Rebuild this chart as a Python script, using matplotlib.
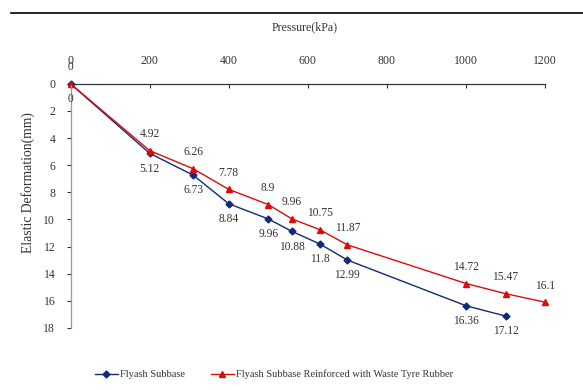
import matplotlib
matplotlib.use("Agg")
import matplotlib.pyplot as plt
from matplotlib.lines import Line2D

plt.rcParams['font.family'] = ['Liberation Serif', 'DejaVu Serif']

pressure_fly = [0, 200, 310, 400, 500, 560, 630, 700, 1000, 1100]
deform_fly = [0, 5.12, 6.73, 8.84, 9.96, 10.88, 11.8, 12.99, 16.36, 17.12]
pressure_rub = [0, 200, 310, 400, 500, 560, 630, 700, 1000, 1100, 1200]
deform_rub = [0, 4.92, 6.26, 7.78, 8.9, 9.96, 10.75, 11.87, 14.72, 15.47, 16.1]
x_ticks = [0, 200, 400, 600, 800, 1000, 1200]
y_ticks = [0, 2, 4, 6, 8, 10, 12, 14, 16, 18]
label_fly = "Flyash Subbase"
label_rub = "Flyash Subbase Reinforced with Waste Tyre Rubber"

blue = '#102a78'
red = '#dd0a0a'
tc = '#333333'

fig = plt.figure(figsize=(5.83, 3.90), dpi=100)
ax = fig.add_axes([0.121, 0.159, 0.814, 0.626])

ax.plot(pressure_fly, deform_fly, color=blue, lw=1.0, marker='D', ms=3.5, label=label_fly)
ax.plot(pressure_rub, deform_rub, color=red, lw=1.0, marker='^', ms=4.5, label=label_rub)

for x, y in zip(pressure_fly, deform_fly):
    ax.annotate(f"{y:g}", (x, y), xytext=(0, -11), textcoords='offset points',
                ha='center', va='center', fontsize=8.3, color=tc)
for x, y in zip(pressure_rub, deform_rub):
    ax.annotate(f"{y:g}", (x, y), xytext=(0, 12), textcoords='offset points',
                ha='center', va='center', fontsize=8.3, color=tc)

ax.set_xlim(0, 1200)
ax.set_ylim(18, 0)
ax.set_xticks(x_ticks)
ax.set_yticks(y_ticks)
ax.xaxis.tick_top()
ax.tick_params(axis='x', direction='in', length=3, pad=12, labelsize=8.5, colors=tc)
ax.tick_params(axis='y', direction='out', length=3, pad=8, labelsize=8.5, colors=tc)
for s in ['right', 'bottom']:
    ax.spines[s].set_visible(False)
ax.spines['top'].set_color('#333333')
ax.spines['top'].set_linewidth(0.9)
ax.spines['left'].set_color('#999999')
ax.spines['left'].set_linewidth(0.9)
for l in ax.lines:
    l.set_clip_on(False)

fig.add_artist(Line2D([0.019, 1.0], [0.967, 0.967], color='black', lw=1.2))
fig.text(0.522, 0.931, "Pressure(kPa)", ha='center', va='center', fontsize=8.6, color=tc)
fig.text(0.048, 0.531, "Elastic Deformation(mm)", ha='center', va='center', rotation=90,
         fontsize=9.8, color=tc)

fig.legend(loc='center', bbox_to_anchor=(0.47, 0.04), ncol=2, frameon=False,
           fontsize=7.5, handlelength=2.2, handletextpad=0.2, columnspacing=2.5,
           labelcolor=tc)

fig.savefig("out.png", dpi=100)
